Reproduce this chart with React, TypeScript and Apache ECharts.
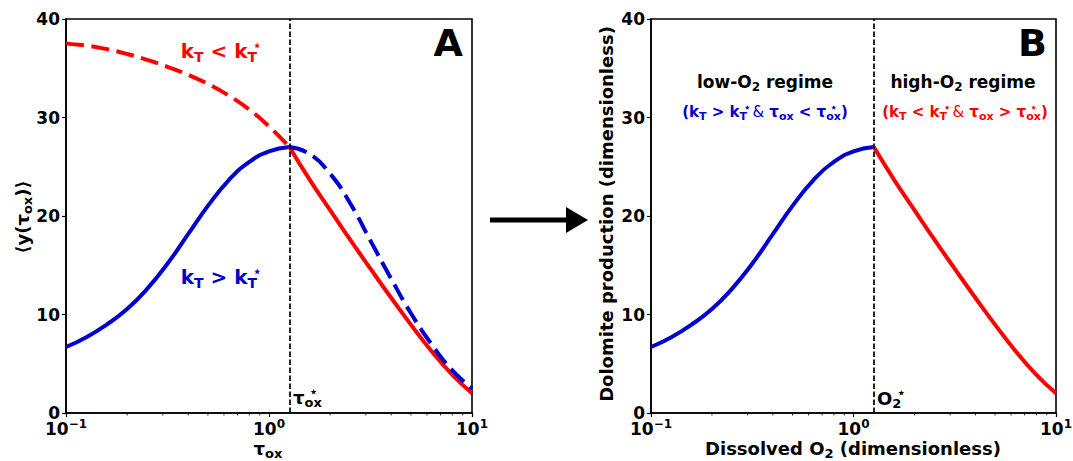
import React, { useEffect, useRef } from 'react';
import * as echarts from 'echarts';

// ---- data ----
const tauLow = [0.1, 0.126, 0.158, 0.2, 0.251, 0.316, 0.398, 0.501, 0.631, 0.794, 1.0, 1.26];
const tauHigh = [1.26, 1.585, 2.0, 2.51, 3.16, 3.98, 5.01, 6.31, 7.94, 10];
const blueLow = [6.7, 7.7, 8.95, 10.55, 12.6, 15.15, 18.1, 21.05, 23.6, 25.45, 26.55, 27.0];
const redLowDashed = [37.5, 37.3, 36.95, 36.45, 35.85, 35.15, 34.35, 33.4, 32.25, 30.85, 29.1, 27.0];
const redHigh = [27.0, 23.7, 20.6, 17.6, 14.65, 11.75, 8.95, 6.3, 3.95, 2.0];
const blueHighDashed = [27.0, 26.3, 24.3, 21.3, 17.5, 13.7, 10.1, 7.0, 4.4, 2.5];
const tauStar = 1.26;
const xTickSup: Record<string, string> = { '-1': '−1', '0': '0', '1': '1' };
const minorTicks = [0.2, 0.3, 0.4, 0.5, 0.6, 0.7, 0.8, 0.9, 2, 3, 4, 5, 6, 7, 8, 9];
const yMin = 0;
const yMax = 40;
const yInterval = 10;

const FF = "'DejaVu Sans', sans-serif";
const BLUE = '#0000CD';
const RED = '#FF0000';

function zip(xs: number[], ys: number[]) {
  return xs.map((x, i) => [x, ys[i]]);
}

function rich(B: number, color: string) {
  const base: any = { fontFamily: FF, fontWeight: 'bold', fill: color, color };
  return {
    sub: { ...base, fontSize: Math.round(B * 0.7), padding: [Math.round(B * 0.6), 0, 0, 0] },
    st: { ...base, fontSize: Math.round(B * 0.7), padding: [0, 0, Math.round(B * 0.6), 0], width: 0.1, align: 'center' },
    amp: { ...base, fontWeight: 'normal', fontSize: B },
  };
}

function label(text: string, x: number, y: number, B: number, color: string, align = 'center', rotation = 0): any {
  return {
    type: 'text',
    x,
    y,
    rotation,
    z: 100,
    style: {
      text,
      fontSize: B,
      fontWeight: 'bold',
      fontFamily: FF,
      fill: color,
      align,
      verticalAlign: 'middle',
      textAlign: align,
      textVerticalAlign: 'middle',
      rich: rich(B, color),
    },
  };
}

function xAxisFor(gi: number): any {
  return {
    type: 'log',
    logBase: 10,
    gridIndex: gi,
    min: 0.1,
    max: 10,
    axisLine: { show: true, onZero: false, lineStyle: { color: '#000', width: 1.6 } },
    axisTick: { show: true, inside: false, length: 4, lineStyle: { color: '#000', width: 1.2 } },
    axisLabel: {
      margin: 5,
      color: '#000',
      fontSize: 17,
      fontWeight: 'bold',
      fontFamily: FF,
      showMinLabel: true,
      showMaxLabel: true,
      formatter: (v: number) => '10{sup|' + xTickSup[String(Math.round(Math.log10(v)))] + '}',
      rich: { sup: { fontSize: 12, fontWeight: 'bold', fontFamily: FF, color: '#000', padding: [0, 0, 9, 0] } },
    },
    splitLine: { show: false },
  };
}

function yAxisFor(gi: number): any {
  return {
    type: 'value',
    gridIndex: gi,
    min: yMin,
    max: yMax,
    interval: yInterval,
    axisLine: { show: true, onZero: false, lineStyle: { color: '#000', width: 1.6 } },
    axisTick: { show: true, inside: false, length: 4, lineStyle: { color: '#000', width: 1.2 } },
    axisLabel: { margin: 6, color: '#000', fontSize: 17, fontWeight: 'bold', fontFamily: FF },
    splitLine: { show: false },
  };
}

function lineSeries(gi: number, data: number[][], color: string, dashed: boolean, extra: any = {}): any {
  return {
    type: 'line',
    xAxisIndex: gi,
    yAxisIndex: gi,
    data,
    smooth: 0.5,
    symbol: 'none',
    silent: true,
    lineStyle: { color, width: 4, type: dashed ? [18, 7.5] : 'solid', cap: 'butt' },
    ...extra,
  };
}

function vline(): any {
  return {
    silent: true,
    symbol: 'none',
    label: { show: false },
    lineStyle: { color: '#000', width: 1.7, type: [5.5, 2.5] },
    data: [{ xAxis: tauStar }],
  };
}

function minorTickSeries(gi: number): any {
  return {
    type: 'custom',
    xAxisIndex: gi,
    yAxisIndex: gi,
    silent: true,
    clip: false,
    z: 10,
    data: minorTicks.map((v) => [v, 0]),
    renderItem: (_p: any, api: any) => {
      const pt = api.coord([api.value(0), api.value(1)]);
      return {
        type: 'line',
        shape: { x1: pt[0], y1: pt[1], x2: pt[0], y2: pt[1] + 2.5 },
        style: { stroke: '#000', lineWidth: 0.8 },
      };
    },
  };
}

export default function App() {
  const ref = useRef<HTMLDivElement>(null);
  useEffect(() => {
    const chart = echarts.init(ref.current!, null, { renderer: 'svg' });
    const option: any = {
      animation: false,
      backgroundColor: '#fff',
      grid: [
        { left: 66, top: 19, width: 406, height: 394, show: true, borderColor: '#000', borderWidth: 1.6, backgroundColor: 'transparent', outerBoundsMode: 'none', containLabel: false },
        { left: 651, top: 19, width: 405, height: 394, show: true, borderColor: '#000', borderWidth: 1.6, backgroundColor: 'transparent', outerBoundsMode: 'none', containLabel: false },
      ],
      xAxis: [xAxisFor(0), xAxisFor(1)],
      yAxis: [yAxisFor(0), yAxisFor(1)],
      series: [
        lineSeries(0, zip(tauLow, blueLow), BLUE, false, { markLine: vline() }),
        lineSeries(0, zip(tauLow, redLowDashed), RED, true),
        lineSeries(0, zip(tauHigh, redHigh), RED, false),
        lineSeries(0, zip(tauHigh, blueHighDashed), BLUE, true),
        lineSeries(1, zip(tauLow, blueLow), BLUE, false, { markLine: vline() }),
        lineSeries(1, zip(tauHigh, redHigh), RED, false),
        minorTickSeries(0),
        minorTickSeries(1),
      ],
      graphic: [
        // panel A
        label('k{sub|T} < k{sub|T}{st|⋆}', 219, 51, 20, RED),
        label('k{sub|T} > k{sub|T}{st|⋆}', 219, 277, 20, BLUE),
        label('τ{sub|o}{st|⋆}{sub|x}', 293, 397, 18, '#000', 'left'),
        label('A', 463, 43, 38, '#000', 'right'),
        label('τ{sub|ox}', 268, 448, 18, '#000'),
        label('⟨y(τ{sub|ox})⟩', 22, 217, 18, '#000', 'center', Math.PI / 2),
        // panel B
        label('B', 1047, 43, 38, '#000', 'right'),
        label('low-O{sub|2} regime', 765, 82, 17, '#000'),
        label('(k{sub|T} > k{sub|T}{st|⋆} {amp|&} τ{sub|ox} < τ{sub|o}{st|⋆}{sub|x})', 765, 112, 15, BLUE),
        label('high-O{sub|2} regime', 963, 82, 17, '#000'),
        label('(k{sub|T} < k{sub|T}{st|⋆} {amp|&} τ{sub|ox} > τ{sub|o}{st|⋆}{sub|x})', 965, 112, 15, RED),
        label('O{sub|2}{st|⋆}', 877, 398, 18, '#000', 'left'),
        label('Dissolved O{sub|2} (dimensionless)', 853, 448, 18, '#000'),
        label('Dolomite production (dimensionless)', 606, 214, 18, '#000', 'center', Math.PI / 2),
        // arrow between panels
        { type: 'line', shape: { x1: 490, y1: 220, x2: 570, y2: 220 }, style: { stroke: '#000', lineWidth: 5 } },
        { type: 'polygon', shape: { points: [[566, 207], [588, 220], [566, 233]] }, style: { fill: '#000' } },
      ],
    };
    chart.setOption(option);
    return () => chart.dispose();
  }, []);
  return (
    <div
      ref={ref}
      style={{ position: 'absolute', left: 0, top: 0, width: 1073, height: 461, background: '#fff' }}
    />
  );
}
